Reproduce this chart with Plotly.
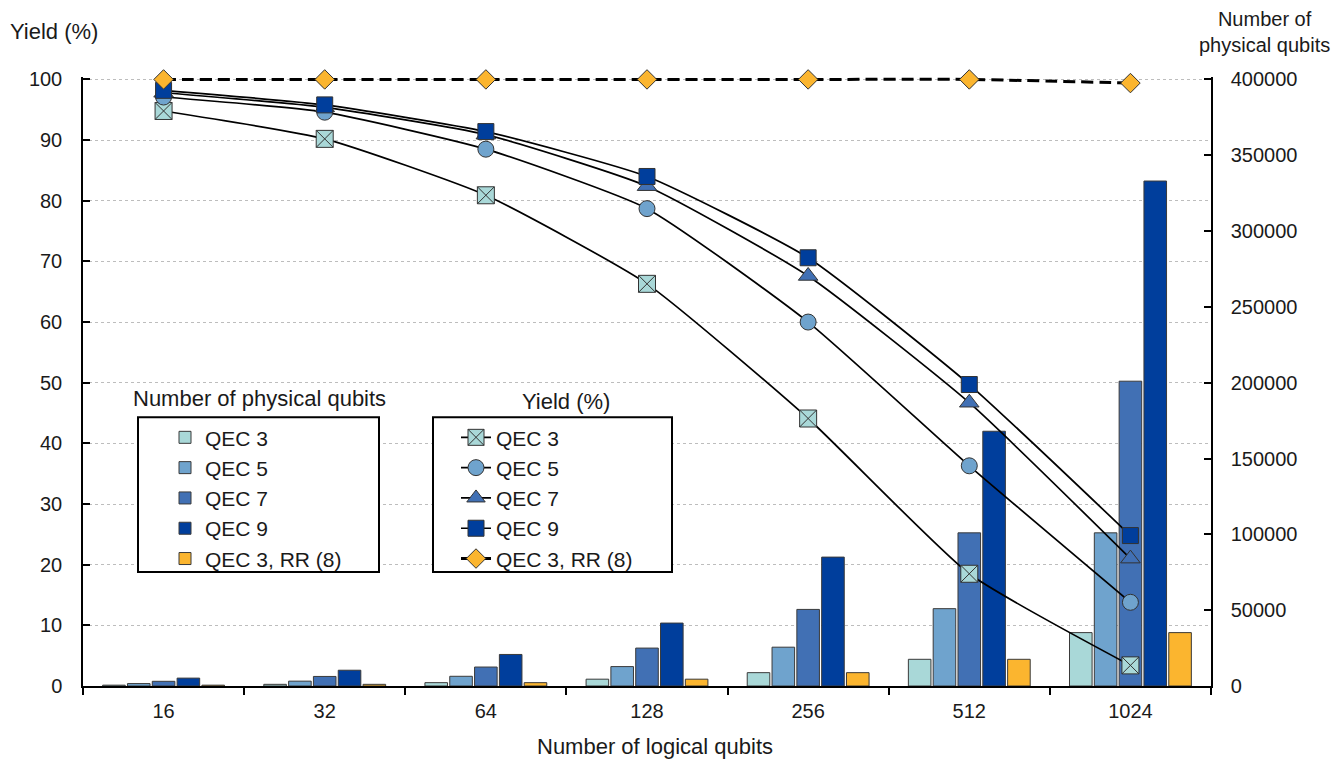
import plotly.graph_objects as go

categories = ["16", "32", "64", "128", "256", "512", "1024"]

# Number of physical qubits (right axis, bars)
phys_qec3 = [550, 1100, 2200, 4500, 8800, 17600, 35200]
phys_qec5 = [1600, 3200, 6400, 12800, 25600, 51000, 101000]
phys_qec7 = [3100, 6300, 12500, 25000, 50500, 101000, 201000]
phys_qec9 = [5200, 10400, 20800, 41500, 85000, 168000, 333000]
phys_qec3_rr8 = [550, 1100, 2200, 4500, 8800, 17600, 35200]

# Yield (%) (left axis, lines)
yield_qec3 = [94.8, 90.2, 80.9, 66.3, 44.1, 18.5, 3.4]
yield_qec5 = [97.1, 94.6, 88.5, 78.7, 60.0, 36.3, 13.8]
yield_qec7 = [97.8, 95.4, 90.9, 82.4, 67.6, 46.7, 21.0]
yield_qec9 = [98.2, 95.8, 91.4, 84.0, 70.6, 49.7, 24.8]
yield_qec3_rr8 = [100, 100, 100, 100, 100, 100, 99.4]

series_names = ["QEC 3", "QEC 5", "QEC 7", "QEC 9", "QEC 3, RR (8)"]
colors = ["#A9D8D8", "#6FA3CD", "#4170B4", "#003E9C", "#FBB52F"]

FONT = "Liberation Sans, Arial, sans-serif"

# axis scales (a small headroom so the line at 100 % is not clipped)
Y2_MAX = 100.4
Y_MAX = 401600

# plot area in page pixels (the page has an 8px body margin)
PL, PR, PB = 83, 1211, 686
Y100 = 79
PT = PB - (PB - Y100) * Y2_MAX / 100.0
PW, PH = PR - PL, PB - PT


def px(xp):
    return (xp - PL) / PW


def py(yp):
    return (PB - yp) / PH


fig = go.Figure()

bar_data = [phys_qec3, phys_qec5, phys_qec7, phys_qec9, phys_qec3_rr8]
for name, vals, col in zip(series_names, bar_data, colors):
    fig.add_trace(go.Bar(
        x=categories, y=vals, name=name, yaxis="y", legend="legend",
        marker=dict(color=col, line=dict(color="#3a3a3a", width=1)),
    ))

line_data = [yield_qec3, yield_qec5, yield_qec7, yield_qec9, yield_qec3_rr8]
symbols = ["square-x", "circle", "triangle-up", "square", "diamond"]
sizes = [17, 16, 17, 16, 15]
for i, (name, vals, col, sym, sz) in enumerate(zip(series_names, line_data, colors, symbols, sizes)):
    rr = (i == 4)
    fig.add_trace(go.Scatter(
        x=categories, y=vals, name=name, yaxis="y2", legend="legend2",
        mode="lines+markers", cliponaxis=False,
        line=dict(color="black", width=3 if rr else 1.7,
                  shape="spline", smoothing=0.5,
                  dash="12px,6px" if rr else "solid"),
        marker=dict(symbol=sym, size=sz, color=col,
                    line=dict(color="#333333", width=1)),
    ))

W, H = 1336, 754
fig.update_layout(
    width=W, height=H,
    template="none",
    paper_bgcolor="white", plot_bgcolor="white",
    font=dict(family=FONT, size=20, color="#1a1a1a"),
    margin=dict(l=PL - 8, r=W - (PR - 8), t=PT - 8, b=H - (PB - 8)),
    barmode="group", bargap=0.23, bargroupgap=0.09,
    showlegend=True,
    xaxis=dict(
        type="category", showline=True, linecolor="black", linewidth=1.5,
        ticks="outside", tickson="boundaries", ticklen=7, tickcolor="black",
        tickwidth=1.5, showgrid=False, zeroline=False,
        tickfont=dict(size=20), ticklabelstandoff=6,
    ),
    yaxis=dict(
        side="right", range=[0, Y_MAX], tickvals=list(range(0, 400001, 50000)),
        tickformat="d", showline=True, linecolor="black", linewidth=1.5,
        ticks="inside", ticklen=7, tickcolor="black", tickwidth=1.5,
        showgrid=False, zeroline=False, tickfont=dict(size=20),
        ticklabelstandoff=14,
    ),
    yaxis2=dict(
        overlaying="y", side="left", range=[0, Y2_MAX],
        tickvals=list(range(0, 101, 10)),
        showline=True, linecolor="black", linewidth=1.5,
        ticks="inside", ticklen=7, tickcolor="black", tickwidth=1.5,
        showgrid=True, gridcolor="#bdbdbd", griddash="dot", gridwidth=1,
        zeroline=False, tickfont=dict(size=20), ticklabelstandoff=15,
    ),
    legend=dict(
        x=px(165), y=py(417), xanchor="left", yanchor="top",
        bgcolor="rgba(0,0,0,0)", borderwidth=0,
        font=dict(size=21), traceorder="normal",
    ),
    legend2=dict(
        x=px(456), y=py(417), xanchor="left", yanchor="top",
        bgcolor="rgba(0,0,0,0)", borderwidth=0,
        font=dict(size=21), traceorder="normal",
    ),
    shapes=[
        dict(type="rect", xref="paper", yref="paper", layer="above",
             x0=px(138), x1=px(379), y0=py(572), y1=py(417),
             fillcolor="white", line=dict(color="black", width=2)),
        dict(type="rect", xref="paper", yref="paper", layer="above",
             x0=px(433), x1=px(672), y0=py(572), y1=py(417),
             fillcolor="white", line=dict(color="black", width=2)),
    ],
    annotations=[
        dict(text="Yield (%)", xref="paper", yref="paper", x=px(8), y=py(31),
             xanchor="left", yanchor="middle", showarrow=False, font=dict(size=22)),
        dict(text="Number of<br>physical qubits", xref="paper", yref="paper",
             x=px(1264), y=py(32), xanchor="center", yanchor="middle", showarrow=False,
             font=dict(size=20), align="center"),
        dict(text="Number of logical qubits", xref="paper", yref="paper",
             x=px(655), y=py(747), xanchor="center", yanchor="middle", showarrow=False,
             font=dict(size=22)),
        dict(text="Number of physical qubits", xref="paper", yref="paper",
             x=px(259), y=py(398), xanchor="center", yanchor="middle", showarrow=False,
             font=dict(size=22)),
        dict(text="Yield (%)", xref="paper", yref="paper",
             x=px(566), y=py(401), xanchor="center", yanchor="middle", showarrow=False,
             font=dict(size=22)),
    ],
)

fig.write_html("out.html")
